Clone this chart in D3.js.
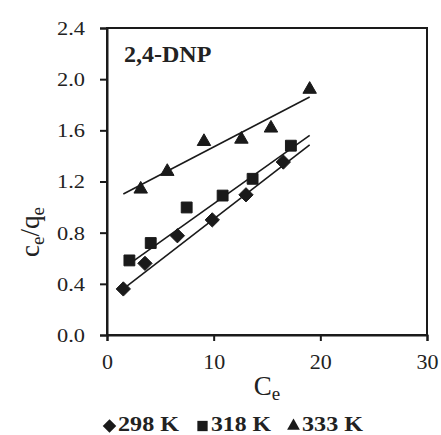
<!DOCTYPE html>
<html><head><meta charset="utf-8">
<script src="https://cdn.jsdelivr.net/npm/d3@7"></script>
<style>body{margin:0;background:#fff}svg{display:block}</style>
</head><body><svg id="c" width="441" height="435"></svg>
<script>
const xTicks = [0, 10, 20, 30];
const yTicks = [0.0, 0.4, 0.8, 1.2, 1.6, 2.0, 2.4];
const seriesNames = ["298 K", "318 K", "333 K"];
const x298 = [1.53, 3.56, 6.6, 9.87, 13.03, 16.53];
const y298 = [0.36, 0.56, 0.776, 0.90, 1.096, 1.352];
const x318 = [2.1, 4.1, 7.47, 10.84, 13.65, 17.24];
const y318 = [0.583, 0.719, 0.997, 1.09, 1.221, 1.48];
const x333 = [3.16, 5.65, 9.09, 12.6, 15.37, 19.0];
const y333 = [1.14, 1.278, 1.512, 1.53, 1.617, 1.92];
// trend line endpoints [x0, y0, x1, y1]
const fit298 = [1.2, 0.34, 19.0, 1.487];
const fit318 = [2.0, 0.55, 19.0, 1.56];
const fit333 = [1.53, 1.102, 19.0, 1.86];

const svg = d3.select("#c");
const L = 107, R = 427, T = 28, B = 335;
const x = d3.scaleLinear().domain([0, 30]).range([L, R]);
const y = d3.scaleLinear().domain([0, 2.4]).range([B, T]);
const font = "Liberation Serif";
const ink = "#1a1a1a";

svg.append("rect").attr("x", L).attr("y", T).attr("width", R - L).attr("height", B - T)
  .attr("fill", "none").attr("stroke", ink).attr("stroke-width", 2);

const xa = svg.append("g").attr("transform", `translate(0,${B})`)
  .call(d3.axisBottom(x).tickValues(xTicks).tickFormat(d3.format("d")).tickSize(6).tickPadding(12));
const ya = svg.append("g").attr("transform", `translate(${L},0)`)
  .call(d3.axisLeft(y).tickValues(yTicks).tickFormat(d3.format(".1f")).tickSize(7).tickPadding(15));
[xa, ya].forEach(a => {
  a.attr("font-family", null);
  a.select(".domain").attr("stroke", ink).attr("stroke-width", 2);
  a.selectAll(".tick line").attr("stroke", ink).attr("stroke-width", 2);
  a.selectAll("text").style("font-family", font).attr("fill", "#222");
});
xa.selectAll("text").style("font-size", "22px");
ya.selectAll("text").style("font-size", "18px").attr("dy", "0.36em")
  .attr("textLength", 28).attr("lengthAdjust", "spacingAndGlyphs");

[fit298, fit318, fit333].forEach(f => {
  svg.append("line").attr("x1", x(f[0])).attr("y1", y(f[1])).attr("x2", x(f[2])).attr("y2", y(f[3]))
    .attr("stroke", ink).attr("stroke-width", 1.6);
});

const sym = [d3.symbolDiamond2, d3.symbolSquare2, d3.symbolTriangle2];
const sizes = [130, 150, 130];
const data = [[x298, y298], [x318, y318], [x333, y333]];
data.forEach((s, i) => {
  svg.append("g").selectAll("path").data(s[0].map((v, j) => [v, s[1][j]])).join("path")
    .attr("transform", d => `translate(${x(d[0])},${y(d[1])})`)
    .attr("d", d3.symbol().type(sym[i]).size(sizes[i]))
    .attr("fill", ink).attr("stroke", ink).attr("stroke-width", 1);
});

svg.append("text").attr("x", 124).attr("y", 62).style("font-family", font).style("font-weight", "bold")
  .style("font-size", "24px").attr("fill", "#222").text("2,4-DNP");

const xt = svg.append("text").attr("x", 267).attr("y", 395).attr("text-anchor", "middle")
  .style("font-family", font).style("font-size", "27px").attr("fill", "#222");
xt.append("tspan").text("C");
xt.append("tspan").style("font-size", "19px").attr("dy", 5).text("e");

const yt = svg.append("text").attr("transform", "translate(39,232) rotate(-90)").attr("text-anchor", "middle")
  .style("font-family", font).style("font-size", "27px").attr("fill", "#222");
yt.append("tspan").text("c");
yt.append("tspan").style("font-size", "19px").attr("dy", 5).text("e");
yt.append("tspan").attr("dy", -5).text("/q");
yt.append("tspan").style("font-size", "19px").attr("dy", 5).text("e");

const lg = svg.append("g");
const lx = [109.5, 202.5, 293.5];
const tx = [118, 211, 302];
const tw = [61, 60, 61];
seriesNames.forEach((n, i) => {
  lg.append("path").attr("transform", `translate(${lx[i]},${426})`)
    .attr("d", d3.symbol().type(sym[i]).size(sizes[i] * 0.9)).attr("fill", ink);
  lg.append("text").attr("x", tx[i]).attr("y", 431).style("font-family", font).style("font-weight", "bold")
    .style("font-size", "21px").attr("fill", "#222")
    .attr("textLength", tw[i]).attr("lengthAdjust", "spacingAndGlyphs").text(n);
});
</script></body></html>
